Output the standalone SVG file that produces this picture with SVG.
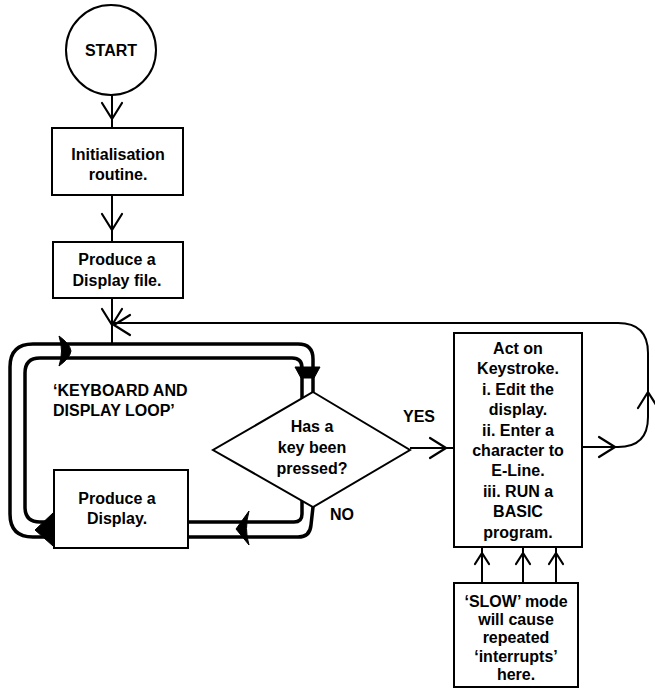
<svg xmlns="http://www.w3.org/2000/svg" xmlns:xlink="http://www.w3.org/1999/xlink" width="655" height="688" viewBox="0 0 655 688">
  <style>
    .shape { fill: #ffffff; stroke: #000000; stroke-width: 2; }
    .line { fill: none; stroke: #000000; stroke-width: 2; }
    .track { fill: none; stroke: #000000; stroke-width: 3.5; stroke-linecap: round; stroke-linejoin: round; }
    .head { fill: #000000; stroke: #000000; stroke-width: 1; stroke-linejoin: round; }
    .chev { fill: none; stroke: #000000; stroke-width: 2.2; stroke-linecap: round; stroke-linejoin: round; }
    text { font-family: "Liberation Sans", Arial, Helvetica, sans-serif; font-size: 16px; font-weight: bold; fill: #000000; }
    .c { text-anchor: middle; }
  </style>
  <defs>
    <!-- open chevron pointing down, tip at origin -->
    <path id="chev" class="chev" d="M-10,-16 L0,0 L10,-16"/>
    <path id="chevS" class="chev" d="M-7,-11 L0,0 L7,-11"/>
  </defs>

  <!-- connectors -->
  <g id="connectors">
    <!-- start to initialisation -->
    <line class="line" x1="112" y1="95" x2="112" y2="128"/>
    <use xlink:href="#chev" transform="translate(112,119)"/>
    <!-- initialisation to display file -->
    <line class="line" x1="112" y1="195" x2="112" y2="242"/>
    <use xlink:href="#chev" transform="translate(112,230)"/>
    <!-- display file into loop -->
    <line class="line" x1="112" y1="298" x2="112" y2="344"/>
    <use xlink:href="#chev" transform="translate(112,325)"/>

    <!-- return path from Act on Keystroke back to the junction -->
    <path class="line" d="M582,447 H618 Q648,447 648,417 V353 Q648,323 618,323 H112"/>
    <use xlink:href="#chev" transform="translate(615,447) rotate(-90)"/>
    <use xlink:href="#chev" transform="translate(648,392) rotate(180)"/>
    <use xlink:href="#chev" transform="translate(114,325) rotate(90)"/>

    <!-- YES branch -->
    <line class="line" x1="410" y1="448" x2="454" y2="448"/>
    <use xlink:href="#chev" transform="translate(446,448) rotate(-90)"/>

    <!-- interrupt arrows from SLOW mode box -->
    <line class="line" x1="482" y1="547" x2="482" y2="583"/>
    <line class="line" x1="523" y1="547" x2="523" y2="583"/>
    <line class="line" x1="556" y1="547" x2="556" y2="583"/>
    <use xlink:href="#chevS" transform="translate(482,553) rotate(180)"/>
    <use xlink:href="#chevS" transform="translate(523,553) rotate(180)"/>
    <use xlink:href="#chevS" transform="translate(556,553) rotate(180)"/>

    <!-- keyboard and display loop: double track -->
    <path class="track" d="M54,537 H33 Q10,537 10,514 V367 Q10,344 33,344 H298 Q313,344 313,359 V392"/>
    <path class="track" d="M54,522 H40 Q25,522 25,507 V373 Q25,358 40,358 H292 Q302,358 302,368 V398"/>
    <path class="track" d="M313,507 L311,525 Q310,537 298,537 H188"/>
    <path class="track" d="M302,501 V514 Q302,522 294,522 H188"/>
    <!-- filled arrowheads on the track -->
    <path class="head" d="M59,336 Q70,344 71,351 Q70,358 59,366 Q64,351 59,336 Z"/>
    <path class="head" d="M295,367 L320,367 L314,378 L301,378 Z"/>
    <path class="head" d="M249,511 L236,529 L249,545 Q244,529 249,511 Z"/>
    <path class="head" d="M53,513 L35,530 L53,546 Z"/>
  </g>

  <g id="start">
    <circle class="shape" cx="111" cy="50" r="45"/>
    <text class="c" x="111" y="56">START</text>
  </g>

  <g id="init">
    <rect class="shape" x="52" y="128" width="131" height="67"/>
    <text class="c" x="118" y="160">Initialisation</text>
    <text class="c" x="118" y="180">routine.</text>
  </g>

  <g id="display-file">
    <rect class="shape" x="53" y="242" width="130" height="56"/>
    <text class="c" x="117" y="265">Produce a</text>
    <text class="c" x="117" y="286">Display file.</text>
  </g>

  <g id="loop-label">
    <text x="53" y="396">‘KEYBOARD AND</text>
    <text x="53" y="416">DISPLAY LOOP’</text>
  </g>

  <g id="key-pressed">
    <polygon class="shape" points="313,392 410,450 313,507 213,450"/>
    <text class="c" x="312" y="432">Has a</text>
    <text class="c" x="312" y="453">key been</text>
    <text class="c" x="312" y="474">pressed?</text>
    <text x="330" y="520">NO</text>
    <text x="403" y="422">YES</text>
  </g>

  <g id="produce-display">
    <rect class="shape" x="54" y="470" width="134" height="78"/>
    <text class="c" x="117" y="504">Produce a</text>
    <text class="c" x="117" y="524">Display.</text>
  </g>

  <g id="act-on-keystroke">
    <rect class="shape" x="454" y="333" width="128" height="214"/>
    <text class="c" x="518" y="354">Act on</text>
    <text class="c" x="518" y="374.4">Keystroke.</text>
    <text class="c" x="518" y="394.8">i. Edit the</text>
    <text class="c" x="518" y="415.2">display.</text>
    <text class="c" x="518" y="435.6">ii. Enter a</text>
    <text class="c" x="518" y="456">character to</text>
    <text class="c" x="518" y="476.4">E-Line.</text>
    <text class="c" x="518" y="496.8">iii. RUN a</text>
    <text class="c" x="518" y="517.2">BASIC</text>
    <text class="c" x="518" y="537.6">program.</text>
  </g>

  <g id="slow-mode">
    <rect class="shape" x="454" y="583" width="124" height="104"/>
    <text class="c" x="516" y="607">‘SLOW’ mode</text>
    <text class="c" x="516" y="625">will cause</text>
    <text class="c" x="516" y="643">repeated</text>
    <text class="c" x="516" y="662">‘interrupts’</text>
    <text class="c" x="516" y="680">here.</text>
  </g>
</svg>
